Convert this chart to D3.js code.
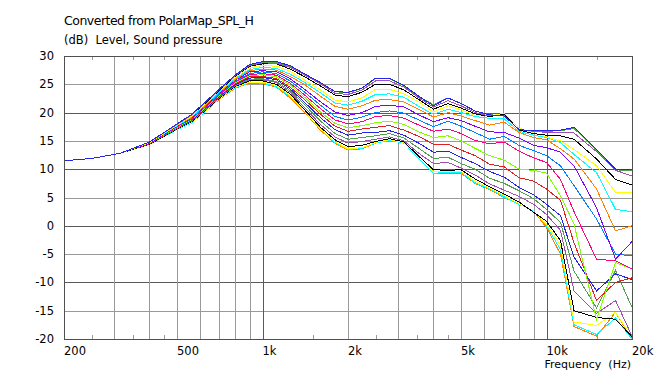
<!DOCTYPE html>
<html>
<head>
<meta charset="utf-8">
<script src="https://cdn.jsdelivr.net/npm/d3@7"></script>
<style>
  body { margin: 0; background: #fff; }
  svg text { font-family: "DejaVu Sans", Verdana, sans-serif; fill: #000; }
</style>
</head>
<body>
<svg id="chart" width="654" height="374"></svg>
<script>
// frequency points (Hz)
var freqs = [200, 250, 315, 400, 500, 560, 630, 710, 800, 900, 1000, 1120, 1250, 1400, 1600, 1800,
  2000, 2240, 2500, 2800, 3150, 3550, 4000, 4500, 5000, 5600, 6300, 7100, 8000, 9000,
  10000, 11200, 12500, 15000, 17500, 20000];

// SPL per horizontal angle (dB)
var h0  = [11.5,11.9,12.8,14.8,18.0,19.6,21.9,24.3,26.6,28.5,29.0,29.0,28.3,26.9,25.3,23.7,23.6,24.3,26.1,26.1,24.8,22.9,21.2,22.6,21.6,20.3,19.6,19.4,17.0,16.8,16.8,16.9,17.4,13.5,10.0,10.0];
var h5  = [11.5,11.9,12.8,14.8,18.0,19.6,21.9,24.3,26.6,28.4,28.9,28.9,28.2,26.9,25.3,23.7,23.5,24.3,26.0,26.0,24.7,22.8,21.4,22.6,21.6,20.3,19.6,19.5,17.0,16.8,16.7,16.8,17.2,13.4,9.9,9.7];
var h10 = [11.5,11.9,12.8,14.8,17.9,19.5,21.8,24.2,26.5,28.3,28.8,28.7,28.0,26.7,25.1,23.4,23.2,24.0,25.6,25.6,24.5,22.6,21.0,22.1,21.2,20.0,19.4,19.5,17.0,16.7,16.5,16.5,16.4,13.1,9.8,8.8];
var h15 = [11.5,11.9,12.8,14.8,17.9,19.5,21.7,24.1,26.4,28.2,28.6,28.6,27.7,26.4,24.7,23.1,22.8,23.6,25.0,25.0,24.0,22.3,20.6,21.6,20.8,19.8,19.3,19.7,16.9,16.3,16.0,15.9,15.3,11.8,8.2,7.2];
var h20 = [11.5,11.9,12.8,14.7,17.8,19.3,21.6,24.0,26.2,27.9,28.3,28.2,27.3,25.8,24.0,22.2,21.9,22.6,24.1,24.1,23.3,21.9,20.1,21.2,20.5,19.5,19.4,19.9,17.3,16.4,15.7,15.0,13.5,10.6,5.9,5.9];
var h25 = [11.5,11.9,12.8,14.7,17.7,19.2,21.5,23.8,26.0,27.6,28.0,27.8,26.8,25.4,23.5,21.7,21.3,22.0,23.2,23.3,22.7,21.1,19.7,20.6,20.0,19.3,19.0,18.9,16.7,16.0,15.6,14.7,12.6,9.4,2.9,2.5];
var h30 = [11.5,11.9,12.8,14.7,17.7,19.1,21.3,23.7,25.8,27.4,27.7,27.5,26.4,25.0,22.9,21.1,20.6,21.2,22.2,22.3,21.9,20.6,19.2,20.0,19.4,18.6,17.8,18.3,16.5,15.6,15.2,13.6,11.8,6.5,-0.9,0.0];
var h35 = [11.5,11.9,12.8,14.6,17.6,19.0,21.2,23.6,25.7,27.2,27.4,27.2,26.0,24.2,21.9,20.1,19.5,20.0,21.1,21.3,21.0,19.6,18.4,19.1,18.6,17.6,16.6,16.5,15.5,14.2,13.8,13.0,10.6,3.2,-5.9,-2.8];
var h40 = [11.5,11.9,12.8,14.6,17.5,18.9,21.1,23.5,25.5,26.9,27.2,26.9,25.6,23.7,21.3,19.3,18.7,19.2,20.0,20.3,19.9,18.7,17.5,18.5,17.6,16.5,15.3,15.8,14.2,13.3,12.4,10.6,7.1,1.2,-5.0,-5.3];
var h45 = [11.5,11.9,12.8,14.6,17.5,18.8,21.0,23.3,25.4,26.7,26.9,26.6,25.2,23.2,20.7,18.7,18.0,18.4,19.3,19.5,19.0,17.8,16.7,17.1,16.3,15.1,14.5,14.8,13.2,12.0,11.2,8.2,2.5,-5.9,-6.2,-7.6];
var h50 = [11.5,11.9,12.8,14.6,17.4,18.7,20.9,23.2,25.2,26.5,26.7,26.3,24.9,22.8,20.1,18.1,17.3,17.7,18.2,18.5,17.9,16.6,15.6,15.9,15.0,13.7,12.4,11.6,10.0,9.8,9.3,5.3,0.3,-16.5,-6.5,-7.6];
var h55 = [11.5,11.9,12.8,14.5,17.3,18.6,20.8,23.1,25.1,26.3,26.4,26.0,24.5,22.4,19.7,17.6,16.7,17.1,17.4,17.7,16.9,15.8,14.4,14.4,13.4,12.4,10.9,10.4,8.5,7.9,6.5,4.5,-3.0,-13.2,-10.0,-9.2];
var h60 = [11.5,11.9,12.8,14.5,17.3,18.5,20.7,23.0,24.9,26.1,26.2,25.8,24.2,21.9,19.1,17.0,16.0,16.4,16.5,16.8,16.0,14.6,13.0,13.2,12.1,11.0,9.6,8.6,6.8,5.5,3.8,1.8,-5.5,-11.5,-8.5,-9.5];
var h65 = [11.5,11.9,12.8,14.5,17.2,18.4,20.6,22.9,24.8,25.9,26.0,25.5,23.9,21.5,18.5,16.3,15.3,15.6,15.9,16.3,15.5,13.7,11.9,12.1,11.0,10.0,8.4,7.5,6.2,4.8,2.9,0.6,-8.0,-14.5,-7.9,-14.4];
var h70 = [11.5,11.9,12.8,14.5,17.2,18.4,20.5,22.8,24.7,25.8,25.8,25.3,23.6,21.0,17.9,15.7,14.6,14.9,15.3,15.7,15.0,12.8,11.0,11.2,10.2,9.0,7.4,6.3,5.2,3.8,2.0,-0.8,-11.5,-15.5,-13.2,-19.5];
var h75 = [11.5,11.9,12.8,14.4,17.1,18.3,20.4,22.7,24.6,25.6,25.6,25.0,23.3,20.6,17.4,15.2,14.0,14.2,14.9,15.4,14.8,12.3,9.9,9.8,9.9,8.3,6.9,5.6,4.2,2.4,0.8,-2.6,-15.0,-16.2,-16.5,-19.6];
var h80 = [11.5,11.9,12.8,14.4,17.1,18.2,20.3,22.6,24.5,25.4,25.4,24.8,23.0,20.3,17.1,14.8,13.6,13.8,14.7,15.2,14.7,12.0,9.5,9.6,9.6,7.9,6.6,5.3,3.9,2.5,0.3,-3.4,-17.0,-17.6,-15.3,-19.7];
var h85 = [11.5,11.9,12.8,14.4,17.0,18.1,20.2,22.6,24.4,25.3,25.2,24.6,22.8,20.3,17.0,14.7,13.5,13.7,14.6,15.1,14.6,11.9,9.3,9.4,9.4,7.6,6.5,5.1,3.8,2.6,0.0,-4.2,-17.5,-19.2,-16.3,-20.0];
var h90 = [11.5,11.9,12.8,14.4,17.0,18.1,20.2,22.5,24.3,25.2,25.1,24.5,22.6,20.2,16.9,14.6,13.4,13.6,14.6,15.2,14.6,11.9,9.3,9.3,9.3,7.5,6.4,5.0,3.8,2.6,-0.3,-5.0,-17.8,-19.5,-15.3,-20.0];

var series = [h0, h5, h10, h15, h20, h25, h30, h35, h40, h45, h50, h55, h60, h65, h70, h75, h80, h85, h90];
var colors = ["#2424e8", "#50a050", "#a050b0", "#000000", "#ffff00", "#00ffff", "#ff8000",
  "#8000ff", "#0080ff", "#ff0080", "#80ff00", "#e02020"];

// axis ticks
var xLabelVals = [200, 500, 1000, 2000, 5000, 10000, 20000];
var xLabels = ["200", "500", "1k", "2k", "5k", "10k", "20k"];
var xGrid = [300, 400, 500, 600, 700, 800, 900, 1000, 2000, 3000, 4000, 5000, 6000, 7000, 8000, 9000, 10000];
var xMajor = [1000, 10000];
var xMinor = [250, 350, 450, 1500, 2500, 3500, 4500, 15000];
var yTicks = [-20, -15, -10, -5, 0, 5, 10, 15, 20, 25, 30];

var svg = d3.select("#chart"),
    pL = 64, pR = 632, pT = 56, pB = 339;

var x = d3.scaleLog().domain([200, 20000]).range([pL, pR]),
    y = d3.scaleLinear().domain([-20, 30]).range([pB, pT]);

var grid = svg.append("g").attr("shape-rendering", "crispEdges");

grid.selectAll(".hg")
  .data(yTicks.filter(function(d) { return d > -20 && d < 30; }))
  .enter().append("line")
    .attr("x1", pL).attr("x2", pR)
    .attr("y1", function(d) { return Math.round(y(d)) + 0.5; })
    .attr("y2", function(d) { return Math.round(y(d)) + 0.5; })
    .attr("stroke", function(d) { return d % 10 === 0 ? "#5a5a5a" : "#9a9a9a"; });

grid.selectAll(".vg")
  .data(xGrid)
  .enter().append("line")
    .attr("x1", function(d) { return Math.round(x(d)) + 0.5; })
    .attr("x2", function(d) { return Math.round(x(d)) + 0.5; })
    .attr("y1", pT).attr("y2", pB)
    .attr("stroke", function(d) { return xMajor.indexOf(d) >= 0 ? "#5a5a5a" : "#9a9a9a"; });

// short ticks at top and bottom
xMinor.forEach(function(d) {
  var xx = Math.round(x(d)) + 0.5;
  grid.append("line").attr("x1", xx).attr("x2", xx).attr("y1", pB).attr("y2", pB - 4).attr("stroke", "#9a9a9a");
  grid.append("line").attr("x1", xx).attr("x2", xx).attr("y1", pT).attr("y2", pT + 4).attr("stroke", "#9a9a9a");
});

svg.append("defs").append("clipPath").attr("id", "clip")
  .append("rect").attr("x", pL).attr("y", pT).attr("width", pR - pL).attr("height", pB - pT + 1);

var line = d3.line()
  .x(function(d, i) { return x(freqs[i]); })
  .y(function(d) { return y(d); });

svg.append("g").attr("clip-path", "url(#clip)")
  .selectAll("path")
  .data(series.slice().reverse())
  .enter().append("path")
    .attr("d", line)
    .attr("fill", "none")
    .attr("stroke", function(d, i) { return colors[(series.length - 1 - i) % colors.length]; })
    .attr("stroke-width", 1)
    .attr("shape-rendering", "crispEdges");

// frame
svg.append("rect")
  .attr("x", pL + 0.5).attr("y", pT + 0.5)
  .attr("width", pR - pL).attr("height", pB - pT)
  .attr("fill", "none").attr("stroke", "#505050")
  .attr("shape-rendering", "crispEdges");

svg.selectAll(".yl")
  .data(yTicks)
  .enter().append("text")
    .attr("x", 54)
    .attr("y", function(d) { return y(d) + 4; })
    .attr("text-anchor", "end")
    .style("font-size", "11.5px")
    .text(function(d) { return d; });

svg.selectAll(".xl")
  .data(xLabelVals)
  .enter().append("text")
    .attr("x", function(d) { return x(d); })
    .attr("y", 355)
    .style("font-size", "11.5px")
    .text(function(d, i) { return xLabels[i]; });

svg.append("text").attr("x", 631).attr("y", 368).attr("text-anchor", "end")
  .style("font-size", "11px").attr("xml:space", "preserve").text("Frequency  (Hz)");

svg.append("text").attr("x", 64).attr("y", 25)
  .style("font-size", "12.5px").style("letter-spacing", "-0.5px")
  .text("Converted from PolarMap_SPL_H");

svg.append("text").attr("x", 64).attr("y", 44)
  .style("font-size", "11.5px").attr("xml:space", "preserve").text("(dB)  Level, Sound pressure");
</script>
</body>
</html>
